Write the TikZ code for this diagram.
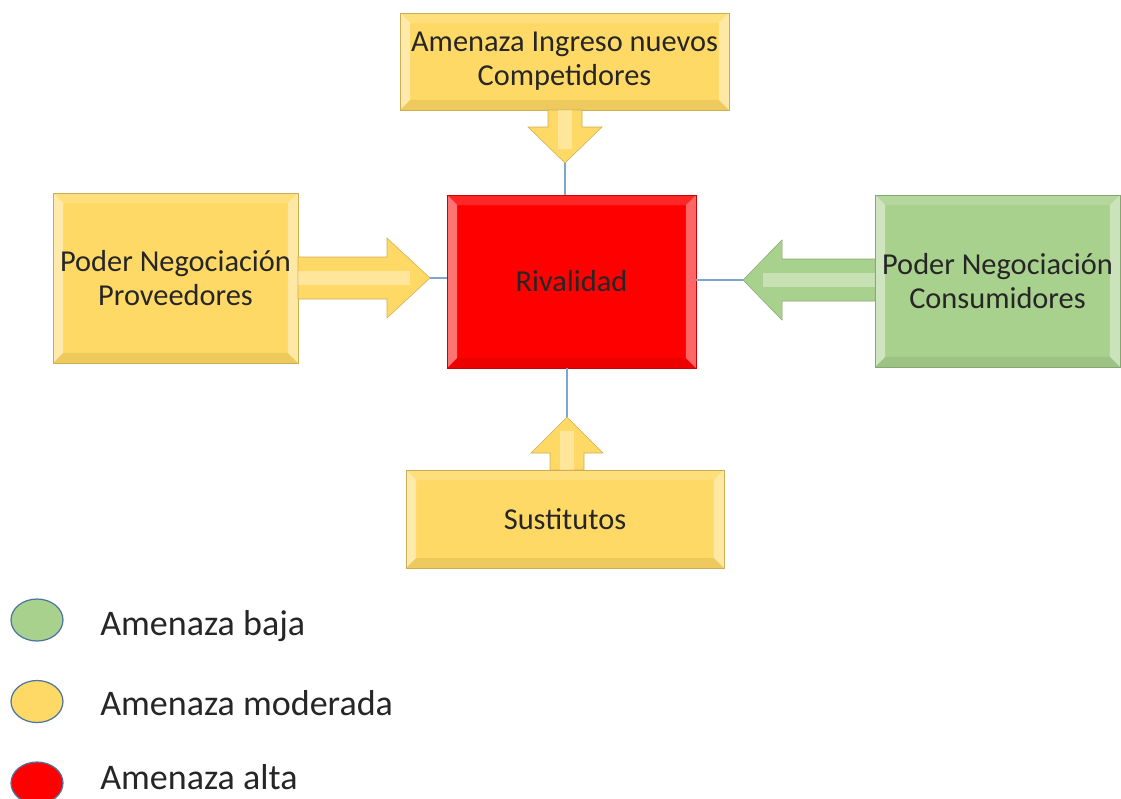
\documentclass[tikz,border=0pt]{standalone}
\usepackage{fontspec}
\setmainfont{Carlito}
\usetikzlibrary{
    shapes.geometric,        % For the legend ellipses
    positioning              % For relative placement of nodes
}
\definecolor{gold}{HTML}{FFD966}
\definecolor{leaf}{HTML}{A9D18E}
\definecolor{linkblue}{HTML}{7FA6CF}
\definecolor{rimblue}{HTML}{4A76A0}

\begin{document}
\begin{tikzpicture}[
    x=0.02cm, y=-0.02cm,
    font=\fontsize{17.3}{19.5}\selectfont,
    bevel/.style={path picture={
        \fill[white, opacity=0.45] (path picture bounding box.south west) -- (path picture bounding box.north west)
            -- ([xshift=0.2cm,yshift=-0.2cm]path picture bounding box.north west) -- ([xshift=0.2cm,yshift=0.2cm]path picture bounding box.south west) -- cycle;
        \fill[white, opacity=0.15] (path picture bounding box.north west) -- (path picture bounding box.north east)
            -- ([xshift=-0.2cm,yshift=-0.2cm]path picture bounding box.north east) -- ([xshift=0.2cm,yshift=-0.2cm]path picture bounding box.north west) -- cycle;
        \fill[white, opacity=0.4] (path picture bounding box.north east) -- (path picture bounding box.south east)
            -- ([xshift=-0.2cm,yshift=0.2cm]path picture bounding box.south east) -- ([xshift=-0.2cm,yshift=-0.2cm]path picture bounding box.north east) -- cycle;
        \fill[black, opacity=0.07] (path picture bounding box.south west) -- (path picture bounding box.south east)
            -- ([xshift=-0.2cm,yshift=0.2cm]path picture bounding box.south east) -- ([xshift=0.2cm,yshift=0.2cm]path picture bounding box.south west) -- cycle;
    }},
    forcebox/.style={
        draw=#1!80!black,
        line width=0.4pt,
        fill=#1,
        bevel,
        align=center,
        inner sep=2pt,
        text=black!85
    },
    blockarrow/.style={draw=#1!80!black, line width=0.3pt, fill=#1},
    glint/.style={fill=white, opacity=0.35},
    link/.style={draw=linkblue, line width=0.9pt},
    legenddot/.style={ellipse, draw=rimblue, line width=0.7pt, fill=#1, minimum width=1.04cm, minimum height=0.84cm},
    legendtext/.style={font=\fontsize{20.5}{24}\selectfont, text=black!85, anchor=base west, inner sep=0pt}
]
    \path[use as bounding box, fill=white] (0,0) rectangle (1121,798);

    % --- The five forces ---
    \node[forcebox=red, minimum width=4.98cm, minimum height=3.46cm] (riv) at (571.5,281.5) {Rivalidad};
    \node[forcebox=gold, minimum width=6.58cm, minimum height=1.94cm] (comp) at (564.5,61.5) {Amenaza Ingreso nuevos\\Competidores};
    \node[forcebox=gold, minimum width=4.9cm, minimum height=3.4cm] (prov) at (175.5,278) {Poder Negociación\\Proveedores};
    \node[forcebox=leaf, minimum width=4.9cm, minimum height=3.44cm] (cons) at (997.5,281) {Poder Negociación\\Consumidores};
    \node[forcebox=gold, minimum width=6.36cm, minimum height=1.96cm] (sust) at (565,519) {Sustitutos};

    % --- Block arrows pointing at the rivalry ---
    \coordinate (tipT) at (565,163);
    \coordinate (tipL) at (430,278);
    \coordinate (tipR) at (743,280);
    \coordinate (tipB) at (567,417);
    \path[blockarrow=gold] (tipT) -- ++(37,-36) -- ++(-20,0) -- ++(0,-17) -- ++(-34,0) -- ++(0,17) -- ++(-20,0) -- cycle;
    \path[blockarrow=gold] (tipL) -- ++(-43,-40) -- ++(0,19) -- ++(-89,0) -- ++(0,42) -- ++(89,0) -- ++(0,19) -- cycle;
    \path[blockarrow=leaf] (tipR) -- ++(39,-40) -- ++(0,19) -- ++(93,0) -- ++(0,42) -- ++(-93,0) -- ++(0,19) -- cycle;
    \path[blockarrow=gold] (tipB) -- ++(36,36) -- ++(-19,0) -- ++(0,17) -- ++(-34,0) -- ++(0,-17) -- ++(-19,0) -- cycle;
    \fill[glint] ([shift={(-7,-53)}]tipT) rectangle ([shift={(7,-14)}]tipT);
    \fill[glint] ([shift={(-132,-7)}]tipL) rectangle ([shift={(-20,7)}]tipL);
    \fill[glint] ([shift={(20,-7)}]tipR) rectangle ([shift={(132,7)}]tipR);
    \fill[glint] ([shift={(-7,14)}]tipB) rectangle ([shift={(7,53)}]tipB);

    % --- Thin links to the box ---
    \draw[link] (tipT) -- (tipT |- riv.north);
    \draw[link] (tipL) -- (tipL -| riv.west);
    \draw[link] (tipR) -- (tipR -| riv.east);
    \draw[link] (tipB) -- (tipB |- riv.south);

    % --- Legend ---
    \node[legenddot=leaf] (low) at (37,620) {};
    \node[legenddot=gold] (mid) at (37,701.5) {};
    \node[legenddot=red] (high) at (37,783) {};
    \node[legendtext] (lowtext) at (100,635) {Amenaza baja};
    \node[legendtext] (midtext) at (100,715.5) {Amenaza moderada};
    \node[legendtext] (hightext) at (100,789) {Amenaza alta};

\end{tikzpicture}
\end{document}
